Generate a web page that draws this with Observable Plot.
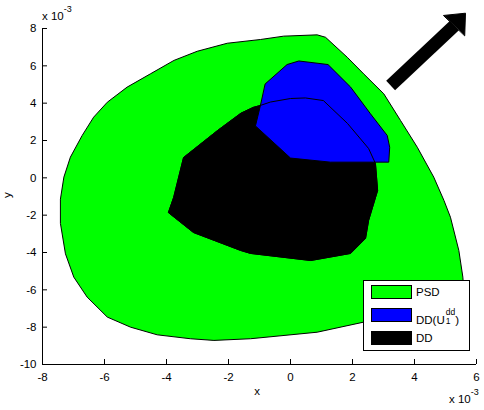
<!DOCTYPE html>
<html><head><meta charset="utf-8">
<script src="https://cdn.jsdelivr.net/npm/d3@7"></script>
<script src="https://cdn.jsdelivr.net/npm/@observablehq/plot@0.6"></script>
<style>
body{margin:0;background:#fff;}
#wrap{position:relative;width:484px;height:410px;font-family:"Liberation Sans",Arial,Helvetica,sans-serif;font-size:11.5px;color:#000;overflow:hidden;}
.abs{position:absolute;white-space:nowrap;line-height:1;}
.lbl{position:absolute;white-space:nowrap;line-height:14px;left:416px;}
.sw{position:absolute;left:371px;width:41px;height:14px;border:1px solid #000;box-sizing:border-box;}
</style></head><body><div id="wrap"></div>
<script>
// Values in units of 1e-3
const xTicks = [-8, -6, -4, -2, 0, 2, 4, 6];
const yTicks = [-10, -8, -6, -4, -2, 0, 2, 4, 6, 8];

// PSD region boundary
const psdX = [-7.42,-7.31,-7.10,-6.72,-6.35,-5.91,-5.27,-4.52,-3.76,-3.01,-2.04,-0.97,-0.22,0.86,1.13,1.83,2.36,3.01,3.55,4.09,4.62,4.95,5.16,5.43,5.56,5.58,5.00,4.03,2.36,0.86,-1.29,-2.47,-3.23,-4.30,-5.16,-5.91,-6.56,-6.99,-7.26,-7.42];
const psdY = [-1.12,0.04,1.11,2.27,3.25,4.05,4.86,5.57,6.29,6.78,7.21,7.41,7.59,7.66,7.53,6.46,5.57,4.50,3.07,1.64,0.04,-1.21,-2.11,-3.89,-5.32,-5.77,-6.30,-6.89,-7.73,-8.27,-8.62,-8.71,-8.62,-8.41,-8.00,-7.46,-6.39,-5.32,-4.07,-2.46];

// DD region boundary
const ddX = [-1.19,-0.97,-0.65,0.00,0.48,1.06,1.84,2.52,2.74,2.81,2.52,2.42,1.94,0.65,-1.29,-1.61,-3.13,-3.94,-3.77,-3.45,-2.35,-1.61];
const ddY = [3.78,3.88,4.06,4.25,4.28,4.14,2.91,1.57,0.77,-0.68,-2.28,-3.25,-4.05,-4.43,-4.05,-3.89,-2.93,-1.86,-1.05,1.09,2.54,3.45];

// DD(U1^dd) region boundary
const ddUX = [-0.81,-0.11,0.27,1.21,1.94,2.58,3.12,3.20,3.17,1.29,0.00,-1.13,-0.97];
const ddUY = [5.04,6.07,6.26,6.07,4.86,3.43,2.27,1.64,0.84,0.84,1.06,2.78,3.88];

// Arrow annotation
const arrowShaftX = [3.23, 5.29];
const arrowShaftY = [4.95, 8.16];
const arrowHeadX = [4.945, 5.645, 5.62];
const arrowHeadY = [8.70, 8.82, 7.625];

const legendLabels = ["PSD", "DD(U", "DD"];
const legendColors = ["#00ff00", "#0000ff", "#000000"];

const toPts = (xs, ys) => xs.map((x, i) => ({x, y: ys[i]}));
const psd = toPts(psdX, psdY), dd = toPts(ddX, ddY), ddU = toPts(ddUX, ddUY);
const shaft = toPts(arrowShaftX, arrowShaftY), head = toPts(arrowHeadX, arrowHeadY);

const W = 484, H = 410, mL = 42, mR = 8, mT = 28, mB = 46;
const fw = W - mL - mR, fh = H - mT - mB;

const chart = Plot.plot({
  width: W, height: H, marginLeft: mL, marginRight: mR, marginTop: mT, marginBottom: mB,
  style: {fontFamily: '"Liberation Sans",Arial,Helvetica,sans-serif', fontSize: "11.5px", background: "white", color: "black", overflow: "visible"},
  x: {domain: [-8, 6], ticks: xTicks, tickFormat: d => String(d), tickSize: 0, tickPadding: 8, label: null},
  y: {domain: [-10, 8], ticks: yTicks, tickFormat: d => String(d), tickSize: 0, tickPadding: 6, label: null},
  marks: [
    Plot.line(psd, {x: "x", y: "y", curve: "linear-closed", fill: "#00ff00", stroke: "black", strokeWidth: 1}),
    Plot.line(dd, {x: "x", y: "y", curve: "linear-closed", fill: "black", stroke: "black", strokeWidth: 1}),
    Plot.line(ddU, {x: "x", y: "y", curve: "linear-closed", fill: "#0000ff", stroke: "black", strokeWidth: 1}),
    Plot.line(dd, {x: "x", y: "y", curve: "linear-closed", fill: "none", stroke: "black", strokeWidth: 1}),
    Plot.line(shaft, {x: "x", y: "y", stroke: "black", strokeWidth: 13, strokeLinecap: "butt"}),
    Plot.line(head, {x: "x", y: "y", curve: "linear-closed", fill: "black", stroke: "black", strokeWidth: 1}),
    Plot.ruleX([-8], {stroke: "black"}),
    Plot.ruleY([-10], {stroke: "black"}),
    Plot.tickX(xTicks, {x: d => d, insetTop: fh - 5, stroke: "black"}),
    Plot.tickY(yTicks, {y: d => d, insetRight: fw - 5, stroke: "black"})
  ]
});

const wrap = document.getElementById("wrap");
wrap.appendChild(chart);
chart.style.position = "absolute";
chart.style.left = "0px";
chart.style.top = "0px";

function add(html, css) {
  const d = document.createElement("div");
  d.className = "abs";
  d.innerHTML = html;
  Object.assign(d.style, css);
  wrap.appendChild(d);
  return d;
}
const sup = '<span style="font-size:9px;position:relative;top:-8px;">-3</span>';
add("x 10" + sup, {left: "42px", top: "11px"});
add("x 10" + sup, {left: "449px", top: "394px"});
add("x", {left: "257px", top: "386px", transform: "translateX(-50%)"});
add("y", {left: "8px", top: "195px", transform: "translate(-50%,-50%) rotate(-90deg)"});

// Legend
const box = document.createElement("div");
Object.assign(box.style, {position: "absolute", left: "363px", top: "280px", width: "107px", height: "71px", border: "1px solid #000", boxSizing: "border-box", background: "#fff"});
wrap.appendChild(box);
const rowCenters = [292, 315, 338];
legendLabels.forEach((t, i) => {
  const s = document.createElement("div");
  s.className = "sw";
  s.style.top = (rowCenters[i] - 7) + "px";
  s.style.background = legendColors[i];
  wrap.appendChild(s);
  const l = document.createElement("div");
  l.className = "lbl";
  l.style.top = (rowCenters[i] - 7) + "px";
  if (i === 1) {
    l.innerHTML = t + '<span style="display:inline-block;vertical-align:baseline;line-height:9px;font-size:8.5px;margin-left:1px;"><span style="display:block">dd</span><span style="display:block">1</span></span>)';
  } else {
    l.textContent = t;
  }
  wrap.appendChild(l);
});
</script>
</body></html>
